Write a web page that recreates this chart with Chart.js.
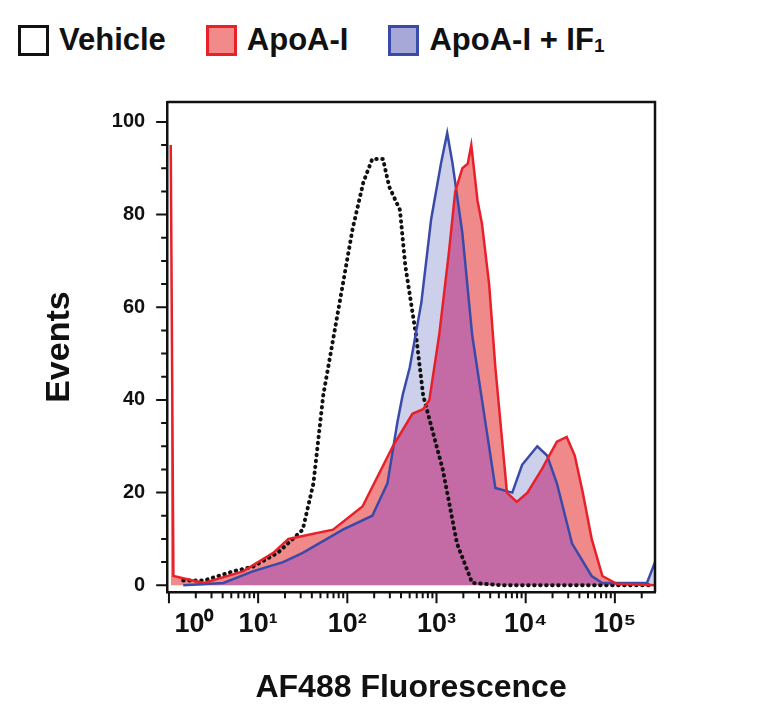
<!DOCTYPE html>
<html><head><meta charset="utf-8">
<script src="https://cdn.jsdelivr.net/npm/chart.js@4"></script>
<style>
body{margin:0;background:#fff;width:771px;height:719px;overflow:hidden;font-family:"Liberation Sans",Arial,sans-serif;}
#leg{position:absolute;top:22px;left:18px;display:flex;align-items:center;font-weight:bold;font-size:31px;color:#111;white-space:nowrap}
.it{display:flex;align-items:center;margin-right:40px}
.bx{width:31px;height:31px;box-sizing:border-box;border:3.5px solid;margin-right:10px}
#wrap{position:absolute;left:0;top:0;width:771px;height:719px}
</style></head><body>
<div id="leg">
<div class="it"><div class="bx" style="border-color:#111;background:#fff"></div>Vehicle</div>
<div class="it"><div class="bx" style="border-color:#e8202a;background:#f28a8a"></div>ApoA-I</div>
<div class="it" style="margin-right:0"><div class="bx" style="border-color:#3a4aa8;background:#a7a7d8"></div>ApoA-I + IF<sub style="font-size:19px;position:relative;top:6px">1</sub></div>
</div>
<div id="wrap"><canvas id="c" width="771" height="719"></canvas></div>
<script>
const vehicleX=[0.16,0.39,0.72,0.94,1.22,1.5,1.62,1.73,1.84,2.06,2.18,2.28,2.40,2.47,2.59,2.65,2.77,2.85,3.07,3.23,3.40,3.74,4.86,5.41];
const vehicleY=[1,1,3,4,7,12,22,41,53,77,87,92,92,86,81,69,54,41,25,9,0.5,0,0,0];
const blueX=[0.16,0.61,0.94,1.28,1.5,1.95,2.28,2.45,2.56,2.62,2.70,2.83,2.94,3.05,3.12,3.18,3.29,3.40,3.51,3.66,3.85,3.96,4.13,4.24,4.35,4.52,4.74,4.86,5.36,5.45];
const blueY=[0,0.5,3,5,7,12,15,22,35,41,47,61,79,91,97.6,91,76,54,40,21,20,26,30,28,22,9,2,0.5,0.5,5];
const redX=[0.02,0.05,0.39,0.83,1.17,1.34,1.84,2.17,2.51,2.73,2.85,2.92,3.03,3.14,3.21,3.29,3.35,3.39,3.46,3.51,3.59,3.66,3.79,3.90,4.02,4.18,4.35,4.46,4.55,4.64,4.74,4.86,5.02,5.45];
const redY=[95,2,0.5,3,7,10,12,17,30,37,38,40,54,72,85,90,91,95,83,78,65,47,20,18,20,25,31,32,28,20,10,2,0.3,0];
const xTickPos=[0.28,1,2,3,4,5];
const xTickLabels=["10⁰","10¹","10²","10³","10⁴","10⁵"];
const yTicks=[0,20,40,60,80,100];
const pts=(xs,ys)=>xs.map((x,i)=>({x,y:ys[i]}));
const minorX=[];for(let d=0;d<6;d++)for(let k=2;k<=9;k++){const v=d+Math.log10(k);if(v<5.45)minorX.push(v);}
function areaPath(ch,i){const m=ch.getDatasetMeta(i).data,b=ch.scales.y.getPixelForValue(0),p=new Path2D();
 p.moveTo(m[0].x,b);m.forEach(e=>p.lineTo(e.x,e.y));p.lineTo(m[m.length-1].x,b);p.closePath();return p;}
const extras={id:'extras',
 beforeDatasetsDraw(ch){const c=ch.ctx;c.save();c.clip(areaPath(ch,0));c.fillStyle='#c46aa4';c.fill(areaPath(ch,1));c.restore();},
 afterDraw(ch){const c=ch.ctx,x=ch.scales.x,y=ch.scales.y,ca=ch.chartArea;c.save();c.strokeStyle='#111';c.lineWidth=2.5;
  c.beginPath();c.moveTo(ca.left,ca.top);c.lineTo(ca.right,ca.top);c.lineTo(ca.right,ca.bottom);c.stroke();
  c.lineWidth=2;c.beginPath();
  minorX.forEach(v=>{const p=x.getPixelForValue(v);c.moveTo(p,ca.bottom);c.lineTo(p,ca.bottom+6);});
  [0,1,2,3,4,5].forEach(v=>{const p=x.getPixelForValue(v);c.moveTo(p,ca.bottom);c.lineTo(p,ca.bottom+11);});
  for(let v=0;v<=100;v+=5){const p=y.getPixelForValue(v);const L=v%20===0?11:6;c.moveTo(ca.left,p);c.lineTo(ca.left-L,p);}
  c.stroke();c.restore();}};
new Chart(document.getElementById('c'),{type:'line',
 data:{datasets:[
  {label:'ApoA-I',data:pts(redX,redY),borderColor:'#e8202a',backgroundColor:'#f08a8a',fill:'origin',borderWidth:2.5,pointRadius:0,tension:0},
  {label:'ApoA-I + IF1',data:pts(blueX,blueY),borderColor:'#3a4aa8',backgroundColor:'#cdd0ea',fill:'origin',borderWidth:2.5,pointRadius:0,tension:0},
  {label:'Vehicle',data:pts(vehicleX,vehicleY),borderColor:'#111',borderDash:[0.5,5.5],borderCapStyle:'round',borderWidth:4,fill:false,pointRadius:0,tension:0}
 ]},
 options:{responsive:false,animation:false,
  layout:{padding:{top:102,right:116,left:35,bottom:8}},
  plugins:{legend:{display:false},tooltip:{enabled:false},filler:{drawTime:'beforeDatasetsDraw'}},
  scales:{
   x:{type:'linear',min:-0.02,max:5.45,grid:{display:false},border:{color:'#111',width:2.5},
    afterBuildTicks:s=>{s.ticks=xTickPos.map(v=>({value:v}));},
    ticks:{autoSkip:false,maxRotation:0,padding:8,color:'#111',font:{family:'Liberation Sans',weight:'bold',size:27},callback:(v,i)=>xTickLabels[i]},
    title:{display:true,text:'AF488 Fluorescence',color:'#111',font:{family:'Liberation Sans',weight:'bold',size:32},padding:{top:20}}},
   y:{min:-1.5,max:104.3,grid:{display:false},border:{color:'#111',width:2.5},
    afterBuildTicks:s=>{s.ticks=yTicks.map(v=>({value:v}));},
    ticks:{padding:14,color:'#111',font:{family:'Liberation Sans',weight:'bold',size:20}},
    title:{display:true,text:'Events',color:'#111',font:{family:'Liberation Sans',weight:'bold',size:34},padding:{bottom:18}}}
  }},
 plugins:[extras]});
</script></body></html>
